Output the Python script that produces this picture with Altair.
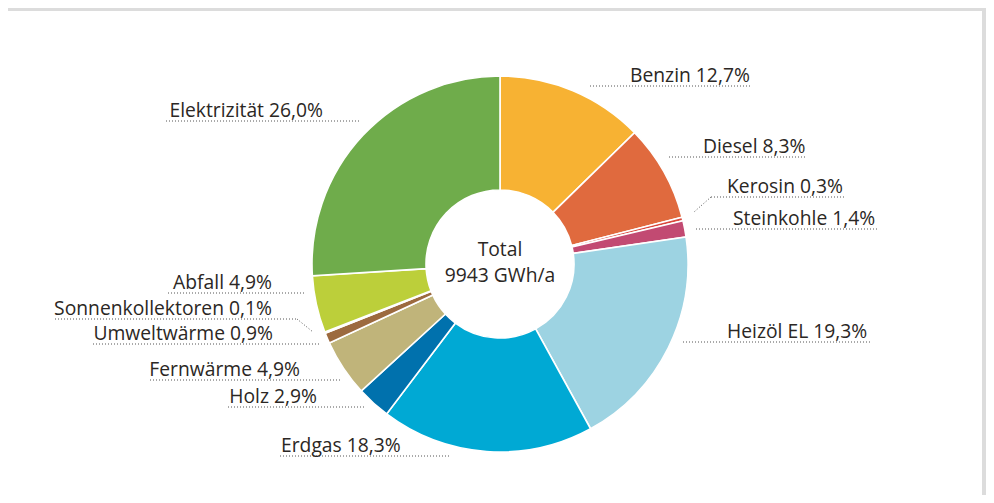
import altair as alt
import pandas as pd

# ---- data ----
categories = ["Benzin", "Diesel", "Kerosin", "Steinkohle", "Heizöl EL", "Erdgas",
              "Holz", "Fernwärme", "Umweltwärme", "Sonnenkollektoren", "Abfall", "Elektrizität"]
shares = [12.7, 8.3, 0.3, 1.4, 19.3, 18.3, 2.9, 4.9, 0.9, 0.1, 4.9, 26.0]
colors = ["#f7b233", "#e06a3e", "#d9473c", "#c24a72", "#9dd3e2", "#00a9d4",
          "#0071ad", "#c0b47a", "#9c6a3f", "#c8cf5a", "#bccf3a", "#6fac4b"]
total_text = ["Total", "9943 GWh/a"]

# ---- label layout (page pixels) ----
label_align = ["left", "left", "left", "left", "left", "left",
               "right", "right", "right", "right", "right", "right"]
label_x = [630, 703, 727, 733, 727, 281, 317, 300, 273, 272, 272, 323]
under_y = [86, 157, 197, 229, 342, 456, 407, 380, 344, 319, 293, 121]
line_x1 = [590, 669, 711, 696, 683, 280, 228, 150, 93, 55, 168, 166]
line_x2 = [752, 807, 845, 878, 870, 450, 365, 341, 319, 297, 304, 360]
# slanted leaders: (category, x1, y1, x2, y2)
leaders = [("Kerosin", 711, 197, 694, 212), ("Sonnenkollektoren", 297, 319, 313, 332)]
center = (500, 264)

X_DOM = [8, 982]
Y_DOM = [11, 495]
xs = alt.Scale(domain=X_DOM, nice=False, zero=False)
ys = alt.Scale(domain=Y_DOM, nice=False, zero=False, reverse=True)

def fmt(v):
    return f"{v:.1f}".replace(".", ",") + "%"

arc_df = pd.DataFrame({
    "cat": categories, "share": shares, "idx": list(range(len(categories))),
    "cx": center[0], "cy": center[1],
})

lab_df = pd.DataFrame({
    "label": [f"{c} {fmt(v)}" for c, v in zip(categories, shares)],
    "align": label_align, "tx": label_x, "ty": under_y,
})

rows = []
for i in range(len(categories)):
    rows.append({"x": line_x1[i], "x2": line_x2[i], "y": under_y[i], "y2": under_y[i]})
for _, a, b, c, d in leaders:
    rows.append({"x": a, "x2": c, "y": b, "y2": d})
line_df = pd.DataFrame(rows)

tot_df = pd.DataFrame({"t": total_text, "cx": center[0], "cy": [256, 282]})

FONT = "Open Sans"
TXT = "#2b2724"
FS = 19.3

arcs = alt.Chart(arc_df).mark_arc(
    outerRadius=188, innerRadius=74, stroke="white", strokeWidth=1.6
).encode(
    x=alt.X("cx:Q", scale=xs, axis=None),
    y=alt.Y("cy:Q", scale=ys, axis=None),
    theta=alt.Theta("share:Q", stack=True),
    color=alt.Color("cat:N", scale=alt.Scale(domain=categories, range=colors), legend=None),
    order=alt.Order("idx:Q"),
)

lines = alt.Chart(line_df).mark_rule(
    color="#555555", strokeWidth=1, strokeDash=[1, 2]
).encode(
    x=alt.X("x:Q", scale=xs, axis=None), x2="x2:Q",
    y=alt.Y("y:Q", scale=ys, axis=None), y2="y2:Q",
)

def text_layer(al):
    return alt.Chart(lab_df).transform_filter(alt.datum.align == al).mark_text(
        align=al, baseline="alphabetic", dy=-4, font=FONT, fontSize=FS, color=TXT
    ).encode(
        x=alt.X("tx:Q", scale=xs, axis=None),
        y=alt.Y("ty:Q", scale=ys, axis=None),
        text="label:N",
    )

tot = alt.Chart(tot_df).mark_text(
    align="center", baseline="alphabetic", font=FONT, fontSize=FS, color=TXT
).encode(
    x=alt.X("cx:Q", scale=xs, axis=None),
    y=alt.Y("cy:Q", scale=ys, axis=None),
    text="t:N",
)

chart = alt.layer(arcs, lines, text_layer("left"), text_layer("right"), tot).properties(
    width=978, height=487,
    autosize=alt.AutoSizeParams(type="fit", contains="padding"),
    padding={"left": 0, "top": 3, "right": 4, "bottom": 0},
    background="#dcdcdc",
).configure_view(fill="white", stroke=None)

chart.save("out.html", embed_options={"renderer": "svg", "actions": False})
